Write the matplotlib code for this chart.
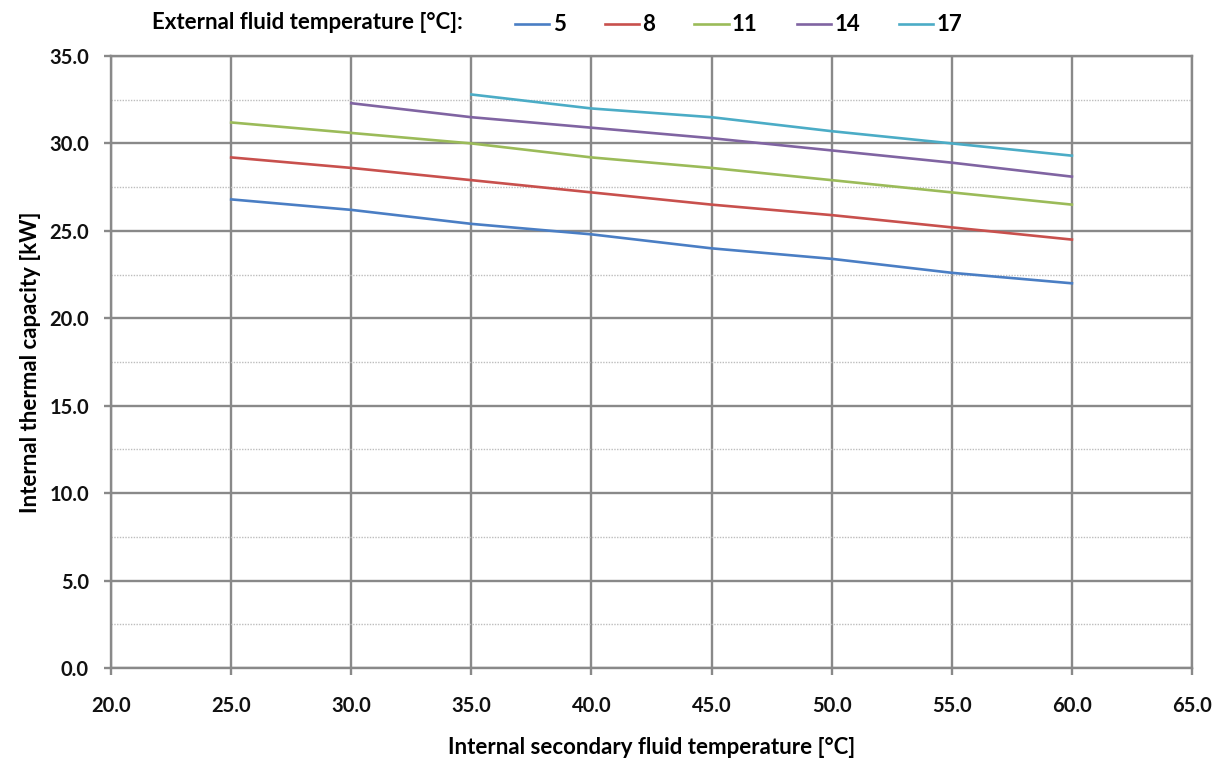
"""Internal thermal capacity vs. internal secondary fluid temperature."""

import matplotlib
matplotlib.use('Agg')
import matplotlib.pyplot as plt
from matplotlib.ticker import MultipleLocator, FormatStrFormatter

# ─── Data ─────────────────────────────────────────────────────────────────────
ext_temps = ['5', '8', '11', '14', '17']

x_5 = [25, 30, 35, 40, 45, 50, 55, 60]
y_5 = [26.8, 26.2, 25.4, 24.8, 24.0, 23.4, 22.6, 22.0]

x_8 = [25, 30, 35, 40, 45, 50, 55, 60]
y_8 = [29.2, 28.6, 27.9, 27.2, 26.5, 25.9, 25.2, 24.5]

x_11 = [25, 30, 35, 40, 45, 50, 55, 60]
y_11 = [31.2, 30.6, 30.0, 29.2, 28.6, 27.9, 27.2, 26.5]

x_14 = [30, 35, 40, 45, 50, 55, 60]
y_14 = [32.3, 31.5, 30.9, 30.3, 29.6, 28.9, 28.1]

x_17 = [35, 40, 45, 50, 55, 60]
y_17 = [32.8, 32.0, 31.5, 30.7, 30.0, 29.3]

# ─── Style ────────────────────────────────────────────────────────────────────
COLORS = ['#4A7EC4', '#C8504D', '#9BBB59', '#8064A2', '#4BACC6']
GRID = '#898989'
MINOR = '#BDBDBD'
FONT = ['Lato', 'DejaVu Sans']
TICK_FS = 14.5
LABEL_FS = 16

plt.rcParams['font.family'] = FONT
plt.rcParams['font.weight'] = 'bold'

fig = plt.figure(figsize=(12.27, 7.6), dpi=100)
ax = fig.add_axes([0.0905, 0.1211, 0.881, 0.8052])

series = [(x_5, y_5), (x_8, y_8), (x_11, y_11), (x_14, y_14), (x_17, y_17)]
for (xs, ys), lab, c in zip(series, ext_temps, COLORS):
    ax.plot(xs, ys, color=c, lw=1.9, label=lab, zorder=3)

ax.set_xlim(20, 65)
ax.set_ylim(0, 35)
ax.xaxis.set_major_locator(MultipleLocator(5))
ax.yaxis.set_major_locator(MultipleLocator(5))
ax.yaxis.set_minor_locator(MultipleLocator(2.5))
ax.xaxis.set_major_formatter(FormatStrFormatter('%.1f'))
ax.yaxis.set_major_formatter(FormatStrFormatter('%.1f'))

ax.grid(True, which='major', color=GRID, lw=1.7, zorder=1)
ax.grid(True, which='minor', axis='y', color=MINOR, lw=1.0, ls=(0, (1, 1)), zorder=1)
ax.set_axisbelow(True)

for s in ax.spines.values():
    s.set_color(GRID)
    s.set_linewidth(1.7)

ax.tick_params(axis='both', which='major', length=5, width=1.7, color=GRID,
               labelsize=TICK_FS, labelcolor='#111111')
ax.tick_params(axis='y', which='minor', length=0)
ax.tick_params(axis='x', pad=15)
ax.tick_params(axis='y', pad=11)

ax.set_xlabel('Internal secondary fluid temperature [°C]', fontsize=LABEL_FS,
              fontweight='bold', labelpad=15)
ax.set_ylabel('Internal thermal capacity [kW]', fontsize=LABEL_FS,
              fontweight='bold', labelpad=6)

# Legend across the top, title on its left
fig.text(0.124, 0.971, 'External fluid temperature [°C]:', ha='left', va='center',
         fontsize=LABEL_FS, fontweight='bold')
ax.legend(loc='center left', bbox_to_anchor=(0.3737, 1.0507), ncol=5, frameon=False,
          fontsize=LABEL_FS, handlelength=1.55, handletextpad=0.15, columnspacing=1.75,
          borderaxespad=0, borderpad=0)

plt.savefig('out.png', dpi=100, facecolor='white')
